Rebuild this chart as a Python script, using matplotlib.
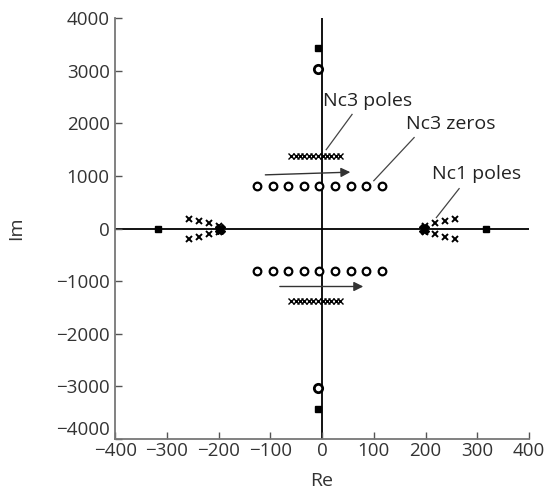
import numpy as np
import matplotlib.pyplot as plt

plt.rcParams['font.family'] = ['Open Sans', 'DejaVu Sans']

# Nc3 zeros (upper half, mirrored below)
zeros_re = [-125, -95, -65, -35, -5, 25, 55, 85, 115]
zeros_im = 810
# Nc3 poles
poles3_re = [-60, -51, -43, -34, -25, -17, -8, 1, 9, 18, 26, 35]
poles3_im = 1380
# Nc1 poles, left and right clusters
nc1_re = [199, 219, 238, 257]
nc1_im = [57, 110, 150, 190]
# poles/zeros on the axes
axis_sq_re = [-317, 317]
axis_x_re = [-197, 197]
top_pole = (-8, 3430)
top_zero = (-8, 3030)

fig = plt.figure(figsize=(5.51, 5.03), dpi=100)
ax = fig.add_axes([0.209, 0.127, 0.751, 0.837])

ax.axhline(0, color='black', lw=1.3, zorder=1)
ax.axvline(0, color='black', lw=1.3, zorder=1)

for s in (1, -1):
    ax.plot(zeros_re, [s * zeros_im] * len(zeros_re), 'o', mfc='white', mec='black',
            ms=5.5, mew=1.6, ls='none', zorder=3)
    ax.plot(poles3_re, [s * poles3_im] * len(poles3_re), 'x', color='black',
            ms=4, mew=1.0, ls='none', zorder=3)
    for side in (1, -1):
        ax.plot([side * v for v in nc1_re], [s * v for v in nc1_im], 'x', color='black',
                ms=4.5, mew=1.4, ls='none', zorder=3)
    ax.plot(top_pole[0], s * top_pole[1], 's', color='black', ms=4, zorder=3)
    ax.plot(top_zero[0], s * top_zero[1], 'o', mfc='white', mec='black', ms=6, mew=2, zorder=3)

ax.plot(axis_sq_re, [0, 0], 's', color='black', ms=5, ls='none', zorder=3)
ax.plot(axis_x_re, [0, 0], 'X', color='black', ms=7, ls='none', zorder=3)

# arrows
ax.annotate('', xy=(60, 1075), xytext=(-115, 1020),
            arrowprops=dict(arrowstyle='-|>', color='#333333', lw=1.0, mutation_scale=14))
ax.annotate('', xy=(85, -1100), xytext=(-87, -1100),
            arrowprops=dict(arrowstyle='-|>', color='#333333', lw=1.0, mutation_scale=14))

# labels with leader lines
lab = dict(fontsize=14, color='#222222', va='center')
ax.text(2, 2420, 'Nc3 poles', ha='left', **lab)
ax.plot([58, 8], [2170, 1500], color='#444444', lw=0.9)
ax.text(162, 1980, 'Nc3 zeros', ha='left', **lab)
ax.plot([178, 100], [1730, 910], color='#444444', lw=0.9)
ax.text(212, 1030, 'Nc1 poles', ha='left', **lab)
ax.plot([265, 221], [760, 210], color='#444444', lw=0.9)

ax.set_xlim(-400, 400)
ax.set_ylim(-4000, 4000)
ax.set_xticks(np.arange(-400, 401, 100))
ax.set_yticks(np.arange(-4000, 4001, 1000))
for sp in ('top', 'right'):
    ax.spines[sp].set_visible(False)
for sp in ('left', 'bottom'):
    ax.spines[sp].set_color('#777777')
    ax.spines[sp].set_linewidth(1.3)
ax.tick_params(direction='in', length=5, width=1, color='#555555',
               labelsize=13.5, labelcolor='#333333')
ax.tick_params(axis='x', pad=2)
ax.tick_params(axis='y', pad=4)
ylabels = ax.get_yticklabels()
for t in ylabels:
    t.set_verticalalignment('center_baseline')
ylabels[0].set_verticalalignment('bottom')
ax.set_xlabel('Re', fontsize=14, color='#333333', labelpad=9)
ax.set_ylabel('Im', fontsize=14, color='#333333', labelpad=22)

fig.savefig('out.png', dpi=100)
